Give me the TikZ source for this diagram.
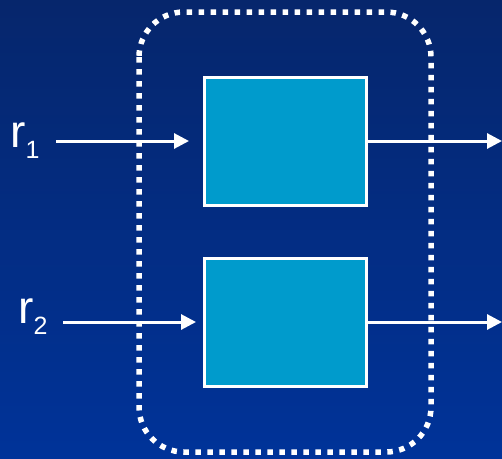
\documentclass[tikz,border=0pt]{standalone}
\usepackage{fontspec}
\setmainfont{Liberation Sans}
\usetikzlibrary{arrows.meta}
\definecolor{bgtop}{RGB}{6,38,108}
\definecolor{bgbot}{RGB}{0,51,153}
\definecolor{boxfill}{RGB}{0,155,204}
\tikzset{
  stagebox/.style={draw=white, line width=3pt, fill=boxfill, minimum width=162pt, minimum height=128pt, inner sep=0pt},
  flow/.style={draw=white, line width=3pt, -{Triangle[length=15pt,width=15pt]}},
  groupline/.style={draw=white, line width=5.5pt, dash pattern=on 5.5pt off 6.5pt, rounded corners=45pt},
  inlabel/.style={text=white, inner sep=0pt, anchor=base west, font=\fontsize{46}{46}\selectfont}
}
\newcommand{\lowidx}[1]{\raisebox{-11pt}{\fontsize{25}{25}\selectfont #1}}
\begin{document}
\begin{tikzpicture}[x=1pt,y=-1pt]
  % background
  \shade[top color=bgtop, bottom color=bgbot] (0,0) rectangle (502,458);
  \useasboundingbox (0,0) rectangle (502,458);

  % the two processing blocks
  \node[stagebox] (box1) at (285.5,141) {};
  \node[stagebox] (box2) at (285.5,322) {};

  % input labels
  \node[inlabel] (r1) at (10,147) {r\lowidx{1}};
  \node[inlabel] (r2) at (18,323) {r\lowidx{2}};

  % connector end points
  \coordinate (in1) at (56,141);
  \coordinate (in2) at (63,322);
  \coordinate (out1) at (502,141);
  \coordinate (out2) at (502,322);

  % grouping outline
  \draw[groupline] (139,12) rectangle (431,452);

  % signal flow
  \draw[flow, shorten >=14pt] (in1) -- (box1.west);
  \draw[flow, shorten >=7pt] (in2) -- (box2.west);
  \draw[flow] (box1.east) -- (out1);
  \draw[flow] (box2.east) -- (out2);
\end{tikzpicture}
\end{document}
